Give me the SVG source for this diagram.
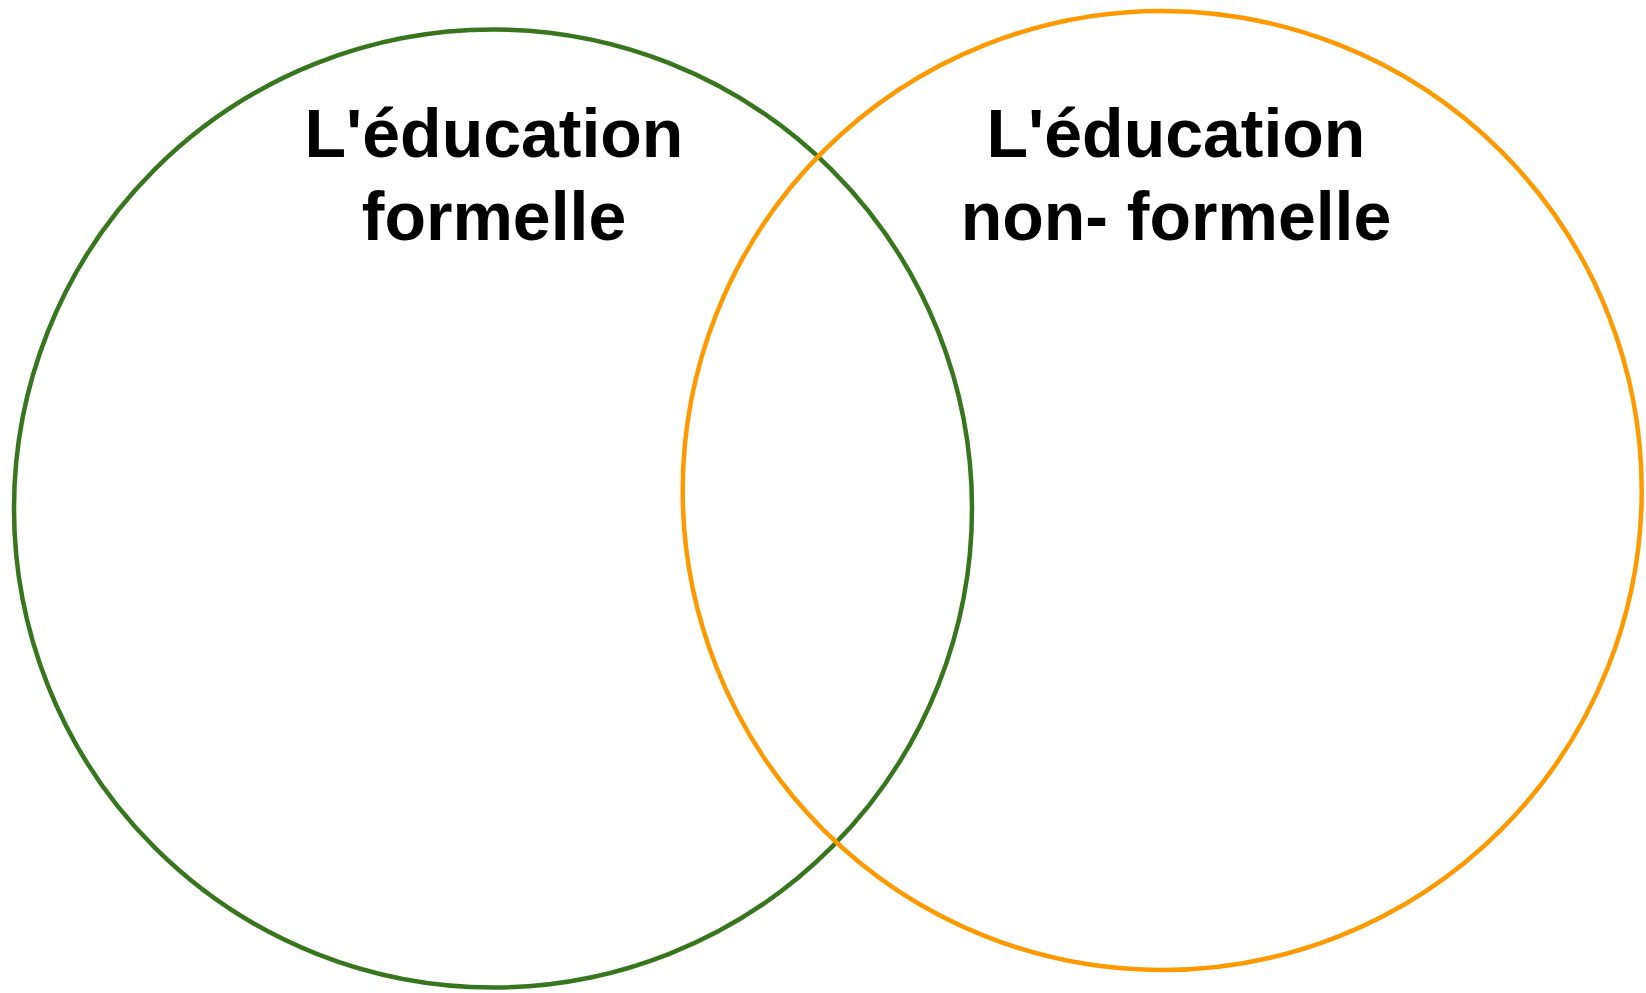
<svg xmlns="http://www.w3.org/2000/svg" width="1646" height="993" viewBox="0 0 1646 993">
<style>
.circ{fill:none;stroke-width:4.5}
.lbl{font-family:"Liberation Sans",Arial,sans-serif;font-weight:bold;font-size:68px;fill:#000;text-anchor:middle}
</style>
<rect width="1646" height="993" fill="#fff"/>
<g id="formelle">
<circle class="circ" cx="493" cy="508.5" r="479" stroke="#38761d"/>
<text class="lbl" x="494" y="157">L'éducation</text>
<text class="lbl" x="494" y="240">formelle</text>
</g>
<g id="non-formelle">
<circle class="circ" cx="1162.2" cy="490.5" r="479.5" stroke="#ff9900"/>
<text class="lbl" x="1176" y="157">L'éducation</text>
<text class="lbl" x="1176" y="240">non- formelle</text>
</g>
<g id="connectors"></g>
</svg>
